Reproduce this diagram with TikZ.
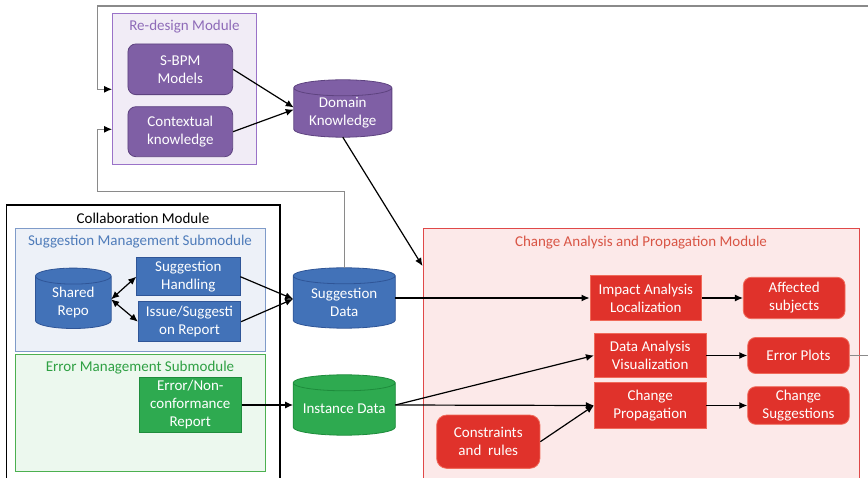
\documentclass[tikz,border=0pt]{standalone}
\usepackage{fontspec}
\setmainfont{Carlito}
\usetikzlibrary{arrows.meta,calc}
\definecolor{pfill}{HTML}{7F5FA5}
\definecolor{pdraw}{HTML}{5E4380}
\definecolor{pbg}{HTML}{F1ECF6}
\definecolor{pline}{HTML}{9A72C8}
\definecolor{ptext}{HTML}{8E6BB8}
\definecolor{bfill}{HTML}{4272B8}
\definecolor{bdraw}{HTML}{2F5597}
\definecolor{bbg}{HTML}{EDF1F8}
\definecolor{bline}{HTML}{7F9BC9}
\definecolor{btext}{HTML}{4F7CBA}
\definecolor{gfill}{HTML}{2EAA50}
\definecolor{gdraw}{HTML}{1E8C3C}
\definecolor{gbg}{HTML}{ECF8EE}
\definecolor{gline}{HTML}{4CB050}
\definecolor{gtext}{HTML}{2EA043}
\definecolor{rfill}{HTML}{E0322B}
\definecolor{rdraw}{HTML}{F06A5A}
\definecolor{rbg}{HTML}{FCE9E9}
\definecolor{rline}{HTML}{E04848}
\definecolor{rtext}{HTML}{D95545}
\definecolor{loopgray}{HTML}{8A8A8A}
\newcommand\mycyl[8]{%
  \node[cylbase, minimum width=#4pt, minimum height=#5pt] (#1) at (#2,#3) {};
  \path[fill=#6,draw=#7,line width=0.8pt] let \p1=(#1.north west), \p2=(#1.south east) in
    (\x1,\y1-8pt) -- (\x1,\y2+8pt)
    arc[start angle=180,end angle=360,x radius={(\x2-\x1)/2},y radius=8pt]
    -- (\x2,\y1-8pt)
    arc[start angle=0,end angle=180,x radius={(\x2-\x1)/2},y radius=8pt] -- cycle
    (\x1,\y1-8pt) arc[start angle=180,end angle=360,x radius={(\x2-\x1)/2},y radius=8pt];
  \node[nodetext] (#1t) at ($(#1)+(0,-4)$) {#8};
}
\begin{document}
\begin{tikzpicture}[x=1pt,y=1pt,
  every node/.style={font=\fontsize{15}{18}\selectfont},
  cylbase/.style={rectangle,draw=none,inner sep=0pt},
  nodetext/.style={text=white,align=center,inner sep=0pt},
  container/.style={rectangle,inner sep=0pt,line width=1pt},
  boxnode/.style={rectangle,inner sep=0pt,align=center,text=white,line width=0.8pt},
  pnode/.style={boxnode,fill=pfill,draw=pdraw,rounded corners=8pt},
  bnode/.style={boxnode,fill=bfill,draw=bdraw},
  gnode/.style={boxnode,fill=gfill,draw=gdraw},
  rnode/.style={boxnode,fill=rfill,draw=rdraw},
  rrnode/.style={boxnode,fill=rfill,draw=rdraw,rounded corners=8pt},
  arr/.style={line width=1.2pt,-{Latex[length=8pt,width=7pt]}},
  darr/.style={line width=1.2pt,{Latex[length=8pt,width=7pt]}-{Latex[length=8pt,width=7pt]}},
  grayline/.style={line width=1.4pt,draw=loopgray},
  grayarr/.style={grayline,-{Latex[length=8pt,width=7pt,color=black]}},
  title/.style={inner sep=0pt}
]
\useasboundingbox[fill=white] (0,0) rectangle (868,-478);

% containers
\node[container,draw=pline,fill=pbg,minimum width=144pt,minimum height=150.7pt] (rd) at (184.7,-89.3) {};
\node[title,text=ptext] (rdtitle) at (184.5,-27) {Re-design Module};

\node[container,draw=black,fill=white,line width=1.3pt,minimum width=273.3pt,minimum height=285pt] (cm) at (143.3,-347.5) {};
\node[title] (cmtitle) at (143,-218) {Collaboration Module};

\node[container,draw=bline,fill=bbg,minimum width=250pt,minimum height=122.7pt] (smm) at (140.7,-289.7) {};
\node[title,text=btext] (smmtitle) at (140,-241.7) {Suggestion Management Submodule};

\node[container,draw=gline,fill=gbg,minimum width=250pt,minimum height=116pt] (emm) at (140.7,-413) {};
\node[title,text=gtext] (emmtitle) at (140,-367.7) {Error Management Submodule};

\node[container,draw=rline,fill=rbg,minimum width=436pt,minimum height=261pt] (cam) at (641,-359.5) {};
\node[title,text=rtext] (camtitle) at (641,-242.7) {Change Analysis and Propagation Module};

% re-design module
\node[pnode,minimum width=104.7pt,minimum height=50.7pt] (sbpm) at (180.3,-69.3) {S-BPM\\Models};
\node[pnode,minimum width=104.7pt,minimum height=50pt] (ctx) at (180.3,-131.7) {Contextual\\knowledge};
\mycyl{dk}{342.8}{-108.5}{97.7}{57}{pfill}{pdraw}{Domain\\Knowledge}

% collaboration module
\mycyl{sr}{73.3}{-298.3}{75.3}{60}{bfill}{bdraw}{Shared\\Repo}
\node[bnode,minimum width=103.3pt,minimum height=38pt] (sh) at (188.3,-276.7) {Suggestion\\Handling};
\node[bnode,minimum width=102.4pt,minimum height=40pt] (isr) at (189.5,-321.7) {Issue/Suggesti\\on Report};
\node[gnode,minimum width=102pt,minimum height=55pt] (enr) at (190.3,-405) {Error/Non-\\conformance\\Report};

\mycyl{sd}{344.2}{-298}{101.7}{60}{bfill}{bdraw}{Suggestion\\Data}
\mycyl{id}{344.2}{-405}{101.7}{60}{gfill}{gdraw}{Instance Data}

% change analysis module
\node[rnode,minimum width=111.7pt,minimum height=44.3pt] (ia) at (645.8,-298) {Impact Analysis\\Localization};
\node[rrnode,minimum width=101.7pt,minimum height=41.4pt] (as) at (794.2,-298) {Affected\\subjects};
\node[rnode,minimum width=111.7pt,minimum height=44.4pt] (da) at (650.2,-355.5) {Data Analysis\\Visualization};
\node[rrnode,minimum width=101.6pt,minimum height=36pt] (ep) at (798.5,-355.5) {Error Plots};
\node[rnode,minimum width=111.7pt,minimum height=45.6pt] (cp) at (650.2,-405.5) {Change\\Propagation};
\node[rrnode,minimum width=101.6pt,minimum height=37.6pt] (cs) at (798.5,-405.5) {Change\\Suggestions};
\node[rrnode,rounded corners=10pt,minimum width=103.3pt,minimum height=53.3pt] (cr) at (488.3,-441.7) {Constraints\\and\ \ rules};

% gray feedback loops
\coordinate (tr) at (868,-6);
\coordinate (er) at (868,-355.5);
\draw[grayarr] (tr) -- (97.7,-6) |- (rd.west);
\draw[grayarr] (sd.north) |- (97.7,-191.7) |- ([yshift=-40pt]rd.west);
\draw[grayline] (ep.east) -- (er);

% arrows
\draw[arr] (sbpm.east) -- ([yshift=1pt]dk.west);
\draw[arr] (ctx.east) -- ([yshift=-1pt]dk.west);
\draw[arr] (dk.south) -- ([yshift=93.5pt]cam.west);

\draw[darr] (sh.west) -- ([yshift=-1pt]sr.east);
\draw[darr] (isr.west) -- ([yshift=-1pt]sr.east);
\draw[arr] (sh.east) -- ([yshift=-1pt]sd.west);
\draw[arr] (isr.east) -- ([yshift=-1pt]sd.west);
\draw[arr] (enr.east) -- (id.west);

\draw[arr] (sd.east) -- (ia.west);
\draw[arr] (id.east) -- (da.west);
\draw[arr] (id.east) -- (cp.west);
\draw[arr] (cr.east) -- (cp.west);
\draw[arr] (ia.east) -- (as.west);
\draw[arr] (da.east) -- (ep.west);
\draw[arr] (cp.east) -- (cs.west);
\end{tikzpicture}
\end{document}
